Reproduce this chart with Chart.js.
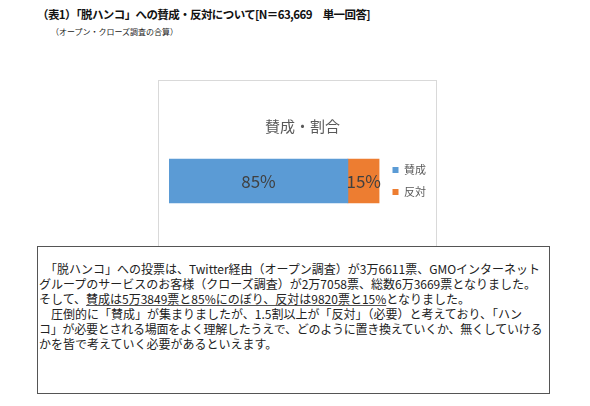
<!DOCTYPE html>
<html>
<head>
<meta charset="utf-8">
<script src="https://cdn.jsdelivr.net/npm/chart.js@4.4.1/dist/chart.umd.min.js"></script>
<style>
  body { margin: 0; background: #fff; width: 590px; height: 406px; overflow: hidden; position: relative;
         font-family: "Noto Sans CJK JP", "Noto Sans", sans-serif; color: #111; }
  #head { position: absolute; left: 37px; top: 6px; font-size: 11.5px; letter-spacing: -0.6px; font-weight: bold; white-space: nowrap; }
  #sub { position: absolute; left: 51px; top: 26px; font-size: 8px; white-space: nowrap; color: #222; }
  #chartBox { position: absolute; left: 158px; top: 80px; width: 277px; height: 175px;
              border: 1px solid #d9d9d9; background: #fff; }
  #chartBox canvas { display: block; }
  #note { position: absolute; left: 37px; top: 246px; width: 511px; height: 146px;
          border: 1.5px solid #555; background: #fff; box-sizing: content-box; }
  #note p { margin: 0; padding: 14px 0 0 1px; font-size: 12px; line-height: 15px; white-space: pre; color: #222; }
  #note u { text-decoration-color: #555; }
  .tight { letter-spacing: -0.25px; }
</style>
</head>
<body>
<div id="head">（表1）「脱ハンコ」への賛成・反対について[N＝63,669　単一回答]</div>
<div id="sub">（オープン・クローズ調査の合算）</div>
<div id="chartBox"><canvas id="myChart" width="277" height="166"></canvas></div>
<div id="note"><p>　「脱ハンコ」への投票は、Twitter経由（オープン調査）が3万6611票、GMOインターネット
グループのサービスのお客様（クローズ調査）が2万7058票、総数6万3669票となりました。
そして、<u>賛成は5万3849票と85%にのぼり、反対は9820票と15%</u>となりました。
　圧倒的に「賛成」が集まりましたが、1.5割以上が「反対」（必要）と考えており、「ハン
<span class="tight">コ」が必要とされる場面をよく理解したうえで、どのように置き換えていくか、無くしていける</span>
かを皆で考えていく必要があるといえます。</p></div>
<script>
// chart data
const categories = ["賛成・割合"];
const seriesNames = ["賛成", "反対"];
const agreeValues = [85];
const disagreeValues = [15];
const seriesColors = ["#5B9BD5", "#ED7D31"];

// draw value labels in the middle of each bar
const valueLabels = {
  id: "valueLabels",
  afterDatasetsDraw(chart) {
    const ctx = chart.ctx;
    ctx.save();
    ctx.font = '17px "Noto Sans CJK JP"';
    ctx.fillStyle = "#404040";
    ctx.textAlign = "center";
    ctx.textBaseline = "middle";
    chart.data.datasets.forEach(function(ds, i) {
      chart.getDatasetMeta(i).data.forEach(function(bar, j) {
        const p = bar.getCenterPoint();
        ctx.fillText(ds.data[j] + "%", p.x, p.y + 1);
      });
    });
    ctx.restore();
  }
};

new Chart(document.getElementById("myChart"), {
  type: "bar",
  data: {
    labels: categories,
    datasets: [
      { label: seriesNames[0], data: agreeValues, backgroundColor: seriesColors[0] },
      { label: seriesNames[1], data: disagreeValues, backgroundColor: seriesColors[1] }
    ]
  },
  options: {
    indexAxis: "y",
    responsive: false,
    animation: false,
    layout: { padding: { left: 10, right: 0, bottom: 26 } },
    scales: {
      x: { stacked: true, min: 0, max: 100, display: false },
      // invisible axis on the right, only used as a gap before the legend
      y: {
        stacked: true,
        position: "right",
        ticks: { display: false },
        grid: { display: false },
        border: { display: false },
        afterFit: function(scale) { scale.width = 2; }
      }
    },
    datasets: { bar: { barThickness: 44 } },
    plugins: {
      title: {
        display: true,
        text: "賛成・割合",
        color: "#595959",
        font: { family: "Noto Sans CJK JP", size: 15, weight: "normal" },
        padding: { top: 36, bottom: 6 }
      },
      legend: {
        position: "right",
        fullSize: false,
        labels: {
          boxWidth: 6,
          boxHeight: 6,
          padding: 11,
          color: "#595959",
          font: { family: "Noto Sans CJK JP", size: 11 }
        }
      },
      tooltip: { enabled: false }
    }
  },
  plugins: [valueLabels]
});
</script>
</body>
</html>
